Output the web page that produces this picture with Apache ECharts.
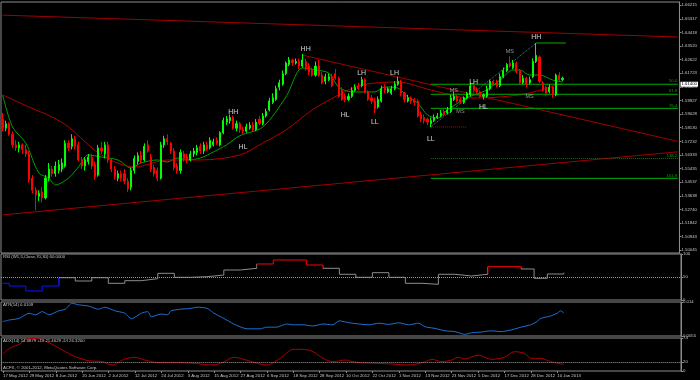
<!DOCTYPE html>
<html>
<head>
<meta charset="utf-8">
<script src="https://cdn.jsdelivr.net/npm/echarts@6/dist/echarts.min.js"></script>
<style>
html,body{margin:0;padding:0;background:#000;}
#c{width:700px;height:380px;}
</style>
</head>
<body>
<div id="c"></div>
<script>
// ---------------- DATA ----------------
const dateLabels = ['17 May 2012','29 May 2012','8 Jun 2012','20 Jun 2012','2 Jul 2012','12 Jul 2012','24 Jul 2012','3 Aug 2012','15 Aug 2012','27 Aug 2012','6 Sep 2012','18 Sep 2012','28 Sep 2012','10 Oct 2012','22 Oct 2012','1 Nov 2012','13 Nov 2012','23 Nov 2012','5 Dec 2012','17 Dec 2012','28 Dec 2012','10 Jan 2013'];

const opens = [
1.5870,1.5810,1.5840,1.5770,1.5700,1.5680,1.5700,1.5670,1.5640,1.5480,
1.5400,1.5360,1.5390,1.5350,1.5480,1.5540,1.5510,1.5530,1.5540,1.5560,
1.5710,1.5690,1.5740,1.5700,1.5600,1.5560,1.5590,1.5620,1.5570,1.5500,
1.5680,1.5640,1.5700,1.5600,1.5540,1.5480,1.5510,1.5510,1.5460,1.5420,
1.5530,1.5590,1.5630,1.5600,1.5700,1.5620,1.5550,1.5530,1.5480,1.5700,
1.5740,1.5710,1.5660,1.5560,1.5530,1.5640,1.5620,1.5600,1.5640,1.5650,
1.5690,1.5660,1.5700,1.5680,1.5700,1.5730,1.5700,1.5780,1.5850,1.5860,
1.5880,1.5810,1.5840,1.5800,1.5790,1.5810,1.5830,1.5800,1.5870,1.5840,
1.5890,1.5930,1.5980,1.6000,1.6080,1.6100,1.6170,1.6230,1.6260,1.6240,
1.6250,1.6220,1.6250,1.6220,1.6200,1.6160,1.6220,1.6160,1.6120,1.6130,
1.6150,1.6170,1.6140,1.6060,1.6020,1.6000,1.6020,1.6060,1.6090,1.6090,
1.6130,1.6050,1.6010,1.5990,1.5950,1.5990,1.6080,1.6050,1.6040,1.6070,
1.6100,1.6120,1.6040,1.5990,1.6010,1.6000,1.5990,1.5900,1.5880,1.5870,
1.5840,1.5860,1.5880,1.5890,1.5920,1.5910,1.5920,1.6000,1.6020,1.6000,
1.5980,1.6010,1.6030,1.6090,1.6070,1.6050,1.6020,1.6020,1.6070,1.6120,
1.6120,1.6090,1.6150,1.6190,1.6240,1.6210,1.6240,1.6190,1.6110,1.6140,
1.6110,1.6150,1.6250,1.6280,1.6110,1.6080,1.6050,1.6080,1.6030,1.6160,1.6130];

const highs = [
1.5910,1.5860,1.5850,1.5790,1.5730,1.5720,1.5710,1.5700,1.5660,1.5500,
1.5420,1.5400,1.5420,1.5500,1.5580,1.5560,1.5590,1.5600,1.5610,1.5730,
1.5730,1.5770,1.5760,1.5720,1.5620,1.5620,1.5640,1.5640,1.5590,1.5700,
1.5720,1.5720,1.5720,1.5610,1.5560,1.5530,1.5530,1.5540,1.5480,1.5550,
1.5630,1.5650,1.5660,1.5710,1.5730,1.5640,1.5570,1.5550,1.5720,1.5760,
1.5770,1.5720,1.5680,1.5580,1.5670,1.5660,1.5640,1.5660,1.5680,1.5700,
1.5710,1.5720,1.5720,1.5750,1.5740,1.5750,1.5790,1.5880,1.5890,1.5900,
1.5895,1.5860,1.5850,1.5820,1.5840,1.5850,1.5850,1.5870,1.5890,1.5910,
1.5940,1.6010,1.6040,1.6090,1.6130,1.6190,1.6250,1.6280,1.6270,1.6270,
1.6270,1.6300,1.6270,1.6240,1.6210,1.6250,1.6260,1.6180,1.6170,1.6170,
1.6170,1.6200,1.6150,1.6080,1.6040,1.6040,1.6080,1.6100,1.6110,1.6150,
1.6140,1.6060,1.6030,1.6010,1.6020,1.6090,1.6100,1.6080,1.6090,1.6120,
1.6150,1.6130,1.6050,1.6030,1.6020,1.6010,1.6000,1.5920,1.5900,1.5880,
1.5880,1.5900,1.5910,1.5930,1.5940,1.5950,1.6030,1.6050,1.6030,1.6010,
1.6020,1.6050,1.6110,1.6110,1.6080,1.6060,1.6040,1.6090,1.6130,1.6130,
1.6130,1.6170,1.6210,1.6240,1.6285,1.6260,1.6250,1.6200,1.6160,1.6150,
1.6150,1.6270,1.6372,1.6290,1.6120,1.6090,1.6100,1.6090,1.6170,1.6180,1.6150];

const lows = [
1.5790,1.5790,1.5760,1.5680,1.5660,1.5650,1.5640,1.5620,1.5450,1.5380,
1.5268,1.5330,1.5320,1.5340,1.5460,1.5490,1.5490,1.5510,1.5520,1.5550,
1.5660,1.5670,1.5670,1.5590,1.5540,1.5530,1.5570,1.5540,1.5470,1.5490,
1.5640,1.5610,1.5580,1.5520,1.5470,1.5460,1.5460,1.5440,1.5390,1.5400,
1.5510,1.5570,1.5580,1.5590,1.5650,1.5520,1.5490,1.5460,1.5470,1.5680,
1.5700,1.5640,1.5530,1.5510,1.5510,1.5590,1.5580,1.5590,1.5620,1.5630,
1.5640,1.5640,1.5660,1.5670,1.5690,1.5700,1.5690,1.5770,1.5830,1.5840,
1.5800,1.5790,1.5780,1.5770,1.5780,1.5800,1.5790,1.5790,1.5830,1.5830,
1.5880,1.5920,1.5970,1.5990,1.6060,1.6090,1.6160,1.6220,1.6220,1.6230,
1.6200,1.6210,1.6190,1.6160,1.6150,1.6150,1.6150,1.6100,1.6100,1.6120,
1.6080,1.6130,1.6010,1.5990,1.5980,1.5990,1.6010,1.6050,1.6060,1.6080,
1.6040,1.5990,1.5970,1.5910,1.5940,1.5980,1.6040,1.6040,1.6030,1.6060,
1.6090,1.6020,1.5980,1.5980,1.5970,1.5960,1.5880,1.5850,1.5840,1.5830,
1.5818,1.5850,1.5870,1.5880,1.5890,1.5900,1.5910,1.5990,1.5980,1.5970,
1.5970,1.6000,1.6020,1.6050,1.6040,1.6010,1.6000,1.6010,1.6060,1.6090,
1.6080,1.6080,1.6140,1.6180,1.6210,1.6200,1.6170,1.6100,1.6100,1.6080,
1.6100,1.6140,1.6240,1.6110,1.6050,1.6020,1.6040,1.6010,1.6020,1.6120,1.6120];

const closes = [
1.5810,1.5840,1.5770,1.5700,1.5680,1.5700,1.5670,1.5640,1.5470,1.5400,
1.5370,1.5380,1.5350,1.5480,1.5540,1.5510,1.5560,1.5570,1.5580,1.5710,
1.5680,1.5740,1.5690,1.5600,1.5560,1.5600,1.5620,1.5560,1.5490,1.5680,
1.5660,1.5700,1.5600,1.5540,1.5490,1.5510,1.5480,1.5460,1.5410,1.5530,
1.5610,1.5630,1.5600,1.5690,1.5660,1.5540,1.5510,1.5480,1.5700,1.5740,
1.5720,1.5660,1.5550,1.5530,1.5650,1.5610,1.5600,1.5640,1.5660,1.5680,
1.5660,1.5700,1.5670,1.5730,1.5720,1.5710,1.5780,1.5860,1.5870,1.5880,
1.5810,1.5840,1.5800,1.5790,1.5820,1.5830,1.5800,1.5850,1.5840,1.5890,
1.5920,1.5990,1.6010,1.6070,1.6110,1.6170,1.6240,1.6260,1.6240,1.6250,
1.6220,1.6260,1.6200,1.6180,1.6160,1.6220,1.6160,1.6110,1.6150,1.6150,
1.6090,1.6140,1.6020,1.6000,1.6000,1.6020,1.6060,1.6080,1.6070,1.6130,
1.6050,1.6000,1.5990,1.5940,1.6000,1.6070,1.6060,1.6070,1.6070,1.6100,
1.6120,1.6040,1.6000,1.6010,1.5990,1.5980,1.5890,1.5870,1.5860,1.5850,
1.5860,1.5880,1.5890,1.5910,1.5900,1.5930,1.6010,1.6020,1.5990,1.5980,
1.6010,1.6040,1.6090,1.6060,1.6050,1.6020,1.6030,1.6070,1.6120,1.6100,
1.6090,1.6150,1.6190,1.6230,1.6220,1.6240,1.6180,1.6110,1.6140,1.6100,
1.6130,1.6250,1.6290,1.6120,1.6060,1.6040,1.6080,1.6030,1.6160,1.6130,1.6140];

// moving averages: [bar, price]
const fastMA = [[0,1.6029],[3,1.5818],[7,1.5712],[11,1.5514],[14,1.5481],[16,1.5435],[20,1.5481],[23,1.5554],[26,1.5633],[30,1.5620],[35,1.5600],[39,1.5547],[42,1.5580],[47,1.5600],[50,1.5587],[53,1.5613],[56,1.5600],[60,1.5613],[64,1.5653],[68,1.5700],[72,1.5760],[79,1.5818],[86,1.6016],[91,1.6207],[95,1.6194],[99,1.6174],[102,1.6082],[106,1.6049],[109,1.6049],[113,1.6049],[116,1.6082],[120,1.6075],[123,1.6016],[126,1.5976],[129,1.5897],[132,1.5877],[135,1.5930],[141,1.6010],[147,1.6062],[151,1.6128],[155,1.6194],[157,1.6194],[160,1.6161],[163,1.6161],[167,1.6128],[170,1.6115]];
const slowMA = [[0,1.6029],[8,1.5950],[15,1.5884],[20,1.5818],[30,1.5633],[40,1.5554],[50,1.5600],[60,1.5600],[72,1.5633],[79,1.5712],[86,1.5798],[94,1.5930],[102,1.6029],[109,1.6095],[120,1.6115],[130,1.6062],[142,1.6009],[151,1.6016],[160,1.6042],[170,1.6108]];

// trend lines / drawing objects: [bar, price]
const trendTop = [[0,1.6556],[205,1.6412]];
const trendSupport = [[0,1.5238],[205,1.5654]];
const trendDown = [[91,1.6292],[205,1.5723]];
const zigzag = [[130,1.5818],[162,1.6372]];
const llLine = [[130,1.5818],[141,1.5818]];
const hhLine = [[162,1.6372],[171,1.6372]];

const fibNames = ['50.0','61.8','76.4','138.2','161.8'];
const fibPrices = [1.6100,1.6034,1.5941,1.5610,1.5479];
const fibStartBar = 130;
const fibEndBar = 205;

const swingText  = ['HH','HL','HH','HL','LH','LL','LH','LL','MS','MS','LH','HL','MS','HH','MS'];
const swingBar   = [70,73,92,104,109,113,119,130,137,139,143,146,154,162,160];
const swingPrice = [1.5917,1.5686,1.6333,1.5897,1.6174,1.5851,1.6174,1.5739,1.6062,1.5923,1.6115,1.5950,1.6319,1.6412,1.6022];

const priceTicks = [1.66215,1.65317,1.64418,1.63520,1.62622,1.61723,1.60825,1.59927,1.59028,1.58130,1.57232,1.56333,1.55435,1.54537,1.53638,1.52740,1.51842,1.50943,1.50045];

// indicators
const rsiSteps = [[0,36.3],[2,30.4],[7,19.6],[12,30.4],[17,48.5],[22,41.3],[27,48.5],[32,36.3],[37,42],[42,46.3],[47,58],[52,49.3],[57,50.7],[62,54.3],[67,65.2],[72,68.9],[77,78.3],[82,87],[92,76.1],[97,68.9],[102,55.9],[107,49.3],[112,59.4],[117,49.3],[122,36.3],[127,34.1],[132,55.9],[137,52.2],[142,55.9],[147,72.4],[157,67.4],[161,47.2],[165,56.5],[170,59.4]];
const rsiTicks = [0,50,100];

const atrPoints = [[0,0.0091],[2,0.0095],[5,0.0099],[8,0.0112],[10,0.0108],[12,0.0116],[14,0.0108],[17,0.0118],[19,0.0122],[21,0.0137],[23,0.0133],[26,0.0130],[29,0.0122],[31,0.0127],[34,0.0118],[37,0.0112],[39,0.0098],[42,0.0112],[44,0.0116],[45,0.0103],[48,0.0110],[50,0.0108],[51,0.0118],[54,0.0122],[57,0.0124],[59,0.0127],[62,0.0124],[64,0.0112],[67,0.0099],[70,0.0085],[74,0.0073],[78,0.0073],[80,0.0077],[83,0.0077],[86,0.0085],[88,0.0083],[91,0.0083],[94,0.0080],[97,0.0085],[100,0.0083],[102,0.0093],[105,0.0088],[108,0.0085],[111,0.0083],[114,0.0087],[117,0.0084],[120,0.0088],[123,0.0083],[126,0.0087],[128,0.0078],[131,0.0074],[134,0.0068],[137,0.0066],[140,0.0059],[142,0.0063],[145,0.0065],[148,0.0068],[151,0.0066],[154,0.0070],[157,0.0077],[160,0.0083],[162,0.0092],[163,0.0099],[166,0.0105],[168,0.0112],[169,0.0118],[170,0.0113]];
const atrTicks = [0.0055,0.014];

const adxPoints = [[0,38],[2,51],[5,60],[7,71],[10,73],[14,63],[18,47],[22,32],[26,23],[30,21],[33,13.5],[37,27],[40,30.6],[43,24.7],[47,18.7],[52,18.7],[58,17.2],[63,13.5],[66,17.2],[70,30.6],[72,28.4],[76,19.5],[80,13.5],[84,28.4],[88,48.6],[91,48.6],[94,43.3],[97,28.4],[100,20.9],[104,24.7],[105,22.4],[108,18.7],[113,17.2],[118,15.7],[122,13.5],[125,15],[128,20.9],[130,26.2],[133,20.9],[136,24.7],[138,30.6],[140,27],[144,35.9],[148,26.2],[152,30.6],[155,43.3],[158,39.7],[160,28.4],[163,28.4],[166,20.9],[170,15]];
const adxTicks = [0,20,74];

const headerRSI = 'RSI (W1,5,Close,70,30) 60.0000';
const headerATR = 'ATR(14) 0.0109';
const headerADX = 'ADX(14) 14.0879 +DI 21.4629 -DI 26.3200';
const copyright = 'ACFX, \u00a9 2001-2012, MetaQuotes Software Corp.';

// ---------------- CHART ----------------
const chart = echarts.init(document.getElementById('c'), null, {renderer: 'canvas'});
const NCAT = 206;
const cats = Array.from({length: NCAT}, (_, i) => String(i));
const candles = opens.map((o, i) => [o, closes[i], lows[i], highs[i]]);
const lastClose = closes[closes.length - 1];

const FONT = 'Liberation Sans';
const TXT = '#c8c8c8';
const BORDER = '#8c8c8c';
const SMALL = 4.3;

const gridBoxes = [
  {top: 2, height: 251},
  {top: 254, height: 46},
  {top: 302, height: 34},
  {top: 338, height: 33}
];
const grids = gridBoxes.map(b => ({left: 1, width: 680, top: b.top, height: b.height,
  show: true, borderColor: BORDER, borderWidth: 1, backgroundColor: 'transparent'}));

const labelInterval = (i) => i % 8 === 0 && i / 8 < dateLabels.length;
const xAxes = grids.map((g, k) => ({
  type: 'category', gridIndex: k, data: cats, boundaryGap: true,
  axisLine: {show: false}, splitLine: {show: false},
  axisTick: k === 3 ? {show: true, alignWithLabel: true, interval: labelInterval, length: 2, lineStyle: {color: BORDER}} : {show: false},
  axisLabel: k === 3 ? {show: true, interval: labelInterval, align: 'left', margin: 3,
    formatter: (v) => dateLabels[Number(v) / 8], fontSize: SMALL, color: TXT, fontFamily: FONT} : {show: false}
}));

function valueAxis(k, min, max, ticks, fmt) {
  return {
    type: 'value', gridIndex: k, position: 'right', min: min, max: max,
    axisLine: {show: true, lineStyle: {color: BORDER}},
    axisTick: {show: true, customValues: ticks, length: 2, lineStyle: {color: BORDER}},
    axisLabel: {show: true, customValues: ticks, formatter: fmt, fontSize: SMALL, color: TXT, margin: 2, fontFamily: FONT},
    splitLine: {show: false}
  };
}
const yAxes = [
  valueAxis(0, 1.49862, 1.66428, priceTicks, v => v.toFixed(5)),
  valueAxis(1, 0, 100, rsiTicks, v => String(v)),
  valueAxis(2, 0.0055, 0.014, atrTicks, v => String(v)),
  valueAxis(3, 0, 74, adxTicks, v => String(v))
];

function line(data, color, opt) {
  return Object.assign({
    type: 'line', xAxisIndex: 0, yAxisIndex: 0, data: data, symbol: 'none', silent: true,
    lineStyle: {color: color, width: 1}, z: 3
  }, opt || {});
}

const series = [];
series.push({
  type: 'candlestick', xAxisIndex: 0, yAxisIndex: 0, data: candles, barWidth: 1.6, silent: true, z: 4,
  itemStyle: {color: '#00ff00', color0: '#ff0000', borderColor: '#00ff00', borderColor0: '#ff0000', borderWidth: 1},
  markLine: {
    silent: true, symbol: ['none', 'none'], lineStyle: {color: 'rgba(0,0,0,0)', width: 0},
    label: {show: true, position: 'end', distance: 1, formatter: () => lastClose.toFixed(5),
      backgroundColor: '#ffffff', color: '#000000', fontSize: SMALL, padding: [1, 1, 0, 1], fontFamily: FONT},
    data: [{yAxis: lastClose}]
  }
});
series.push(line(fastMA, '#00a000', {smooth: 0.3}));
series.push(line(slowMA, '#b40000', {smooth: 0.3}));
series.push(line(trendTop, '#a00000'));
series.push(line(trendSupport, '#a00000'));
series.push(line(trendDown, '#a00000'));
series.push(line(zigzag, '#2a9090', {lineStyle: {color: '#2a9090', width: 1, type: 'dotted'}}));
series.push(line(llLine, '#c00000', {lineStyle: {color: '#c00000', width: 1, type: 'dotted'}}));
series.push(line(hhLine, '#00b000'));
fibPrices.forEach((p, i) => {
  const dotted = fibNames[i] === '138.2';
  series.push(line([[fibStartBar, p], [fibEndBar, p]], dotted ? '#007800' : '#00b000',
    {lineStyle: {color: dotted ? '#007800' : '#00b000', width: 1, type: dotted ? 'dotted' : 'solid'}}));
});

const labelItems = swingText.map((t, i) => ({
  value: [swingBar[i], swingPrice[i]],
  label: t === 'MS'
    ? {formatter: t, fontSize: 5.5, color: '#bdbdbd', fontFamily: FONT}
    : {formatter: t, fontSize: 7, color: '#ffffff', fontFamily: FONT}
}));
fibNames.forEach((n, i) => labelItems.push({
  value: [fibEndBar, fibPrices[i]],
  label: {formatter: n, fontSize: SMALL, color: '#00c800', fontFamily: FONT, position: 'left', distance: 0, offset: [0, -3]}
}));
series.push({
  type: 'scatter', xAxisIndex: 0, yAxisIndex: 0, data: labelItems, symbolSize: 1, silent: true, z: 6,
  itemStyle: {color: 'rgba(0,0,0,0)'},
  label: {show: true, position: 'inside'}
});

const rsiIndex = series.length;
series.push({
  type: 'line', xAxisIndex: 1, yAxisIndex: 1, data: rsiSteps, step: 'end', symbol: 'none', silent: true,
  lineStyle: {width: 1},
  markLine: {silent: true, symbol: ['none', 'none'], label: {show: false},
    lineStyle: {type: 'dotted', color: '#9a9a9a', width: 1}, data: [{yAxis: 50}]}
});
series.push({
  type: 'line', xAxisIndex: 2, yAxisIndex: 2, data: atrPoints, symbol: 'none', silent: true, smooth: 0.2,
  lineStyle: {width: 1, color: '#1f6fd0'}, itemStyle: {color: '#1f6fd0'}
});
series.push({
  type: 'line', xAxisIndex: 3, yAxisIndex: 3, data: adxPoints, symbol: 'none', silent: true, smooth: 0.3,
  lineStyle: {width: 1, color: '#b00000'}, itemStyle: {color: '#b00000'},
  markLine: {silent: true, symbol: ['none', 'none'], label: {show: false},
    lineStyle: {type: 'dotted', color: '#9a9a9a', width: 1}, data: [{yAxis: 20}]}
});

const titleStyle = {fontSize: SMALL, color: TXT, fontWeight: 'normal', fontFamily: FONT};
chart.setOption({
  backgroundColor: '#000000',
  animation: false,
  title: [
    {text: headerRSI, left: 3, top: 255, padding: 0, textStyle: titleStyle},
    {text: headerATR, left: 3, top: 303, padding: 0, textStyle: titleStyle},
    {text: headerADX, left: 3, top: 338.5, padding: 0, textStyle: titleStyle},
    {text: copyright, left: 3, top: 366, padding: 0, textStyle: titleStyle}
  ],
  grid: grids,
  xAxis: xAxes,
  yAxis: yAxes,
  visualMap: [{
    type: 'piecewise', show: false, seriesIndex: rsiIndex, dimension: 0,
    pieces: [
      {lt: 16.5, color: '#1010ff'},
      {gte: 16.5, lt: 76.5, color: '#8c8c8c'},
      {gte: 76.5, lt: 96.5, color: '#ff0000'},
      {gte: 96.5, lt: 146.5, color: '#8c8c8c'},
      {gte: 146.5, lt: 156.5, color: '#ff0000'},
      {gte: 156.5, color: '#8c8c8c'}
    ]
  }],
  series: series
});
</script>
</body>
</html>
